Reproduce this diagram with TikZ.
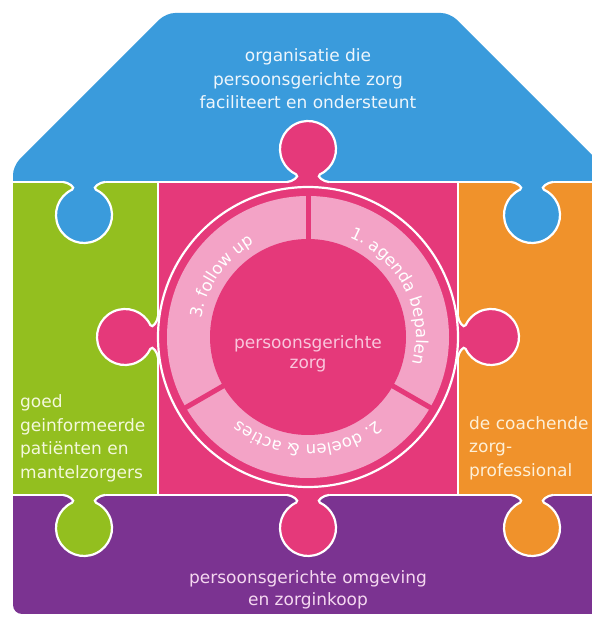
\documentclass[tikz,border=0pt]{standalone}
\usepackage{fontspec}
\setmainfont{DejaVu Sans}
\usetikzlibrary{decorations.text}
\definecolor{pzblue}{HTML}{3A9BDC}
\definecolor{pzgreen}{HTML}{93BF1F}
\definecolor{pzpink}{HTML}{E5397A}
\definecolor{pzorange}{HTML}{F0922B}
\definecolor{pzpurple}{HTML}{7B3391}
\definecolor{pzlight}{HTML}{F3A3C6}
\definecolor{txtblue}{HTML}{EEF6FC}
\definecolor{txtgreen}{HTML}{F4F8DC}
\definecolor{txtorange}{HTML}{FDF0D8}
\definecolor{txtpurple}{HTML}{F5D8F0}
\definecolor{txtpink}{HTML}{F9C6DC}
\newcommand{\ringfont}{\fontsize{16.5}{16.5}\selectfont}
\tikzset{
  outline/.style={draw=white, line width=2.2pt},
  lbl/.style={font=\fontsize{17}{23.5}\selectfont, inner sep=0pt},
  ringtext/.style={decorate, decoration={text along path, text={|\ringfont|#1}, text align=center, text color=white}},
}
\newcommand{\puzzletab}[4]{%
  \begin{scope}[shift={(#1,#2)}, rotate=#3]
    \fill[#4] (-21,0) to[out=0,in=25] (-11.83,-7.62) arc[start angle=115,end angle=425,radius=28] to[out=155,in=180] (21,0) -- (21,4) -- (-21,4) -- cycle;
    \draw[outline] (-21,0) to[out=0,in=25] (-11.83,-7.62) arc[start angle=115,end angle=425,radius=28] to[out=155,in=180] (21,0);
  \end{scope}}
\begin{document}
\begin{tikzpicture}[x=1pt,y=1pt]
\useasboundingbox (0,0) rectangle (592,619);
\clip (0,0) rectangle (592,619);
% pieces
\fill[pzblue, rounded corners=9] (13,410) -- (13,453) -- (166,606) -- (450,606) -- (603,453) -- (603,410) -- cycle;
\fill[pzpurple, rounded corners=9] (13,150) -- (13,5) -- (603,5) -- (603,150) -- cycle;
\fill[pzgreen] (13,124) rectangle (158,437);
\fill[pzpink] (158,124) rectangle (458,437);
\fill[pzorange] (458,124) rectangle (603,437);
% boundaries
\draw[outline] (13,437) -- (603,437);
\draw[outline] (13,124) -- (603,124);
\draw[outline] (158,124) -- (158,437);
\draw[outline] (458,124) -- (458,437);
% tabs
\puzzletab{84}{437}{0}{pzblue}
\puzzletab{532}{437}{0}{pzblue}
\puzzletab{308}{437}{180}{pzpink}
\puzzletab{158}{282}{-90}{pzpink}
\puzzletab{458}{282}{90}{pzpink}
\puzzletab{308}{124}{0}{pzpink}
\puzzletab{84}{124}{0}{pzgreen}
\puzzletab{532}{124}{0}{pzorange}
% circle
\coordinate (C) at (308,282);
\fill[pzpink] (C) circle[radius=150];
\draw[outline] (C) circle[radius=150];
\fill[pzlight] (C) circle[radius=141];
\fill[pzpink] (C) circle[radius=98];
\foreach \a in {90,-30,210} \draw[pzpink, line width=5pt] (C) ++(\a:96) -- ++(\a:46);
\path[shift={(C)}, ringtext={1. agenda bepalen}] (88:108) arc[start angle=88, end angle=-35, radius=108];
\path[shift={(C)}, ringtext={2. doelen {\&} acties}] (-30:108) arc[start angle=-30, end angle=-150, radius=108];
\path[shift={(C)}, ringtext={3. follow up}] (200:108) arc[start angle=200, end angle=90, radius=108];
% labels
\node[lbl, text=txtblue, align=center] (org) at (308,540) {organisatie die\\persoonsgerichte zorg\\faciliteert en ondersteunt};
\node[lbl, text=txtgreen, align=left, anchor=west] (pat) at (20,180.5) {goed\\geinformeerde\\patiënten en\\mantelzorgers};
\node[lbl, text=txtorange, align=left, anchor=west] (prof) at (469,171) {de coachende\\zorg-\\professional};
\node[lbl, text=txtpurple, align=center, font=\fontsize{17}{22}\selectfont] (omg) at (308,29) {persoonsgerichte omgeving\\en zorginkoop};
\node[lbl, text=txtpink, align=center, font=\fontsize{17}{20}\selectfont] (pgz) at (308,265.5) {persoonsgerichte\\zorg};
\end{tikzpicture}
\end{document}
